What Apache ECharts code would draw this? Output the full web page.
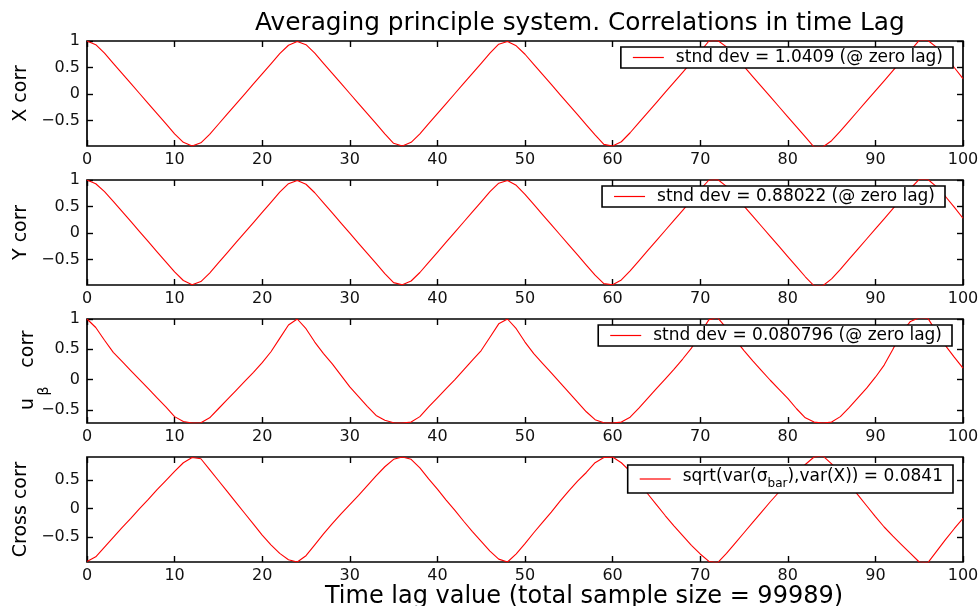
<!DOCTYPE html>
<html>
<head>
<meta charset="utf-8">
<script src="https://cdn.jsdelivr.net/npm/echarts@6/dist/echarts.min.js"></script>
<style>
  html, body { margin: 0; padding: 0; background: #fff; }
  #chart { width: 980px; height: 606px; }
</style>
</head>
<body>
<div id="chart"></div>
<script>
// Correlation estimates against time lag (0..100 samples)
const lags = Array.from({ length: 101 }, (_, i) => i);

const xCorr = [
  1.00, 0.93, 0.77, 0.58, 0.39, 0.20, 0.01, -0.18, -0.37, -0.56,
  -0.75, -0.91, -0.98, -0.92, -0.76, -0.57, -0.38, -0.19, 0.00, 0.19,
  0.38, 0.57, 0.76, 0.92, 0.99, 0.93, 0.77, 0.58, 0.39, 0.20,
  0.01, -0.18, -0.37, -0.56, -0.75, -0.93, -0.98, -0.91, -0.75, -0.56,
  -0.37, -0.18, 0.01, 0.20, 0.39, 0.58, 0.77, 0.94, 0.99, 0.91,
  0.75, 0.56, 0.37, 0.18, -0.01, -0.20, -0.39, -0.58, -0.77, -0.95,
  -0.98, -0.90, -0.73, -0.54, -0.35, -0.16, 0.03, 0.22, 0.41, 0.60,
  0.80, 1.00, 1.01, 0.89, 0.71, 0.52, 0.33, 0.14, -0.05, -0.24,
  -0.43, -0.62, -0.81, -1.00, -1.00, -0.88, -0.70, -0.51, -0.32, -0.13,
  0.06, 0.25, 0.44, 0.63, 0.82, 1.01, 1.01, 0.88, 0.70, 0.50,
  0.29
];

const yCorr = [
  1.00, 0.93, 0.78, 0.60, 0.41, 0.22, 0.03, -0.16, -0.35, -0.54,
  -0.73, -0.89, -0.97, -0.91, -0.75, -0.56, -0.37, -0.18, 0.01, 0.20,
  0.39, 0.58, 0.77, 0.93, 0.99, 0.92, 0.76, 0.57, 0.38, 0.19,
  0.00, -0.19, -0.38, -0.57, -0.76, -0.93, -0.97, -0.90, -0.74, -0.55,
  -0.36, -0.17, 0.02, 0.21, 0.40, 0.59, 0.78, 0.94, 0.99, 0.90,
  0.73, 0.54, 0.35, 0.16, -0.03, -0.22, -0.41, -0.60, -0.79, -0.95,
  -0.97, -0.88, -0.71, -0.52, -0.33, -0.14, 0.05, 0.24, 0.43, 0.62,
  0.82, 1.00, 1.01, 0.88, 0.70, 0.51, 0.32, 0.13, -0.06, -0.25,
  -0.44, -0.63, -0.82, -0.99, -0.99, -0.86, -0.68, -0.49, -0.30, -0.11,
  0.08, 0.27, 0.46, 0.65, 0.84, 1.01, 1.01, 0.87, 0.69, 0.49,
  0.28
];

const uBetaCorr = [
  1.00, 0.86, 0.65, 0.45, 0.30, 0.15, 0.00, -0.15, -0.30, -0.45,
  -0.61, -0.69, -0.715, -0.71, -0.63, -0.48, -0.33, -0.18, -0.03, 0.12,
  0.28, 0.46, 0.68, 0.90, 1.00, 0.84, 0.62, 0.43, 0.26, 0.07,
  -0.12, -0.28, -0.44, -0.59, -0.67, -0.71, -0.715, -0.70, -0.61, -0.45,
  -0.30, -0.15, 0.00, 0.16, 0.32, 0.48, 0.70, 0.92, 1.00, 0.84,
  0.62, 0.43, 0.27, 0.11, -0.05, -0.21, -0.37, -0.53, -0.66, -0.71,
  -0.715, -0.70, -0.62, -0.47, -0.31, -0.15, 0.01, 0.17, 0.34, 0.52,
  0.76, 0.99, 1.02, 0.85, 0.66, 0.48, 0.31, 0.15, -0.01, -0.16,
  -0.31, -0.48, -0.63, -0.70, -0.715, -0.70, -0.61, -0.46, -0.30, -0.14,
  0.04, 0.24, 0.50, 0.78, 0.96, 1.02, 1.01, 0.78, 0.56, 0.37,
  0.19
];

const crossCorr = [
  -0.92, -0.84, -0.67, -0.50, -0.33, -0.17, 0.00, 0.16, 0.33, 0.49,
  0.65, 0.80, 0.89, 0.87, 0.68, 0.49, 0.30, 0.11, -0.08, -0.27,
  -0.46, -0.63, -0.78, -0.89, -0.93, -0.82, -0.63, -0.44, -0.26, -0.09,
  0.07, 0.23, 0.40, 0.57, 0.73, 0.86, 0.90, 0.86, 0.71, 0.52,
  0.34, 0.15, -0.03, -0.22, -0.40, -0.57, -0.74, -0.88, -0.93, -0.79,
  -0.61, -0.42, -0.24, -0.06, 0.13, 0.31, 0.48, 0.63, 0.80, 0.89,
  0.90, 0.80, 0.65, 0.46, 0.26, 0.07, -0.12, -0.30, -0.47, -0.64,
  -0.79, -0.92, -0.94, -0.78, -0.60, -0.42, -0.24, -0.06, 0.12, 0.29,
  0.45, 0.61, 0.77, 0.90, 0.92, 0.78, 0.61, 0.43, 0.24, 0.05,
  -0.14, -0.32, -0.48, -0.63, -0.78, -0.93, -0.94, -0.74, -0.54, -0.35,
  -0.17
];

const legendTexts = [
  'stnd dev = 1.0409 (@ zero lag)',
  'stnd dev = 0.88022 (@ zero lag)',
  'stnd dev = 0.080796 (@ zero lag)',
  'sqrt(var(\u03c3bar),var(X)) = 0.0841'
];

const yLimits = [[-0.98, 1], [-0.975, 1], [-0.715, 1], [-0.93, 0.90]];
const yTickSets = [[-0.5, 0, 0.5, 1], [-0.5, 0, 0.5, 1], [-0.5, 0, 0.5, 1], [-0.5, 0, 0.5]];
const xTickStep = 10;

const titleText = 'Averaging principle system. Correlations in time Lag';
const xLabelText = 'Time lag value (total sample size = 99989)';
const yAxisNames = ['X corr', 'Y corr', '', 'Cross corr'];

// ---- layout & styling ----
const FONT = 'DejaVu Sans';
const panelTops = [41, 180, 319, 457];
const panelHeights = [105, 105, 104, 105];
const PLOT_LEFT = 87, PLOT_WIDTH = 876;
const seriesValues = [xCorr, yCorr, uBetaCorr, crossCorr];

const fmtTick = v => (v < 0 ? '\u2212' + Math.abs(v) : String(v));

const grids = [], xAxes = [], yAxes = [], series = [], legends = [];

const legendBoxes = [
  { right: 27, top: 47 },
  { right: 35, top: 186 },
  { right: 28, top: 325 },
  { right: 27, top: 465 }
];

for (let i = 0; i < 4; i++) {
  grids.push({
    left: PLOT_LEFT, width: PLOT_WIDTH, top: panelTops[i], height: panelHeights[i],
    show: true, borderColor: '#000', borderWidth: 1.7, backgroundColor: '#fff',
    containLabel: false, outerBoundsMode: 'none'
  });

  const tickStyle = { show: true, inside: true, length: 6, lineStyle: { color: '#000', width: 1.4 } };
  const isLast = i === 3;

  // bottom axis with labels
  xAxes.push({
    type: 'value', gridIndex: i, position: 'bottom', min: 0, max: 100, interval: xTickStep,
    axisLine: { show: false, onZero: false }, splitLine: { show: false },
    axisTick: tickStyle,
    axisLabel: { color: '#111', fontFamily: FONT, fontSize: 16, margin: 6, showMinLabel: true, showMaxLabel: true, hideOverlap: false },
    name: isLast ? xLabelText : '',
    nameLocation: 'middle', nameGap: 19,
    nameTextStyle: { color: '#000', fontFamily: FONT, fontSize: 24, padding: [0, 0, 0, 118] }
  });
  // top edge ticks
  xAxes.push({
    type: 'value', gridIndex: i, position: 'top', min: 0, max: 100, interval: xTickStep,
    axisLine: { show: false, onZero: false }, splitLine: { show: false },
    axisTick: tickStyle, axisLabel: { show: false }
  });

  yAxes.push({
    type: 'value', gridIndex: i, position: 'left', min: yLimits[i][0], max: yLimits[i][1],
    axisLine: { show: false, onZero: false }, splitLine: { show: false },
    axisTick: Object.assign({ customValues: yTickSets[i] }, tickStyle),
    axisLabel: { customValues: yTickSets[i], formatter: fmtTick, color: '#111', fontFamily: FONT, fontSize: 16, margin: 7 },
    name: yAxisNames[i], nameLocation: 'middle', nameRotate: 90, nameGap: 45,
    nameTextStyle: { color: '#000', fontFamily: FONT, fontSize: 19 }
  });
  yAxes.push({
    type: 'value', gridIndex: i, position: 'right', min: yLimits[i][0], max: yLimits[i][1],
    axisLine: { show: false, onZero: false }, splitLine: { show: false },
    axisTick: Object.assign({ customValues: yTickSets[i] }, tickStyle),
    axisLabel: { show: false }
  });

  series.push({
    type: 'line', name: legendTexts[i],
    xAxisIndex: 2 * i, yAxisIndex: 2 * i,
    data: seriesValues[i].map((v, k) => [lags[k], v]),
    symbol: 'none', showSymbol: false, clip: true,
    lineStyle: { color: '#ff0000', width: 1.1 },
    itemStyle: { color: '#ff0000' },
    z: 2
  });

  const lg = {
    data: [{ name: legendTexts[i], icon: 'rect' }],
    right: legendBoxes[i].right, top: legendBoxes[i].top,
    orient: 'horizontal',
    backgroundColor: '#fff', borderColor: '#000', borderWidth: 1.6, borderRadius: 0,
    padding: [2, 10, 2, 12],
    itemWidth: 31, itemHeight: 1.2, itemGap: 0,
    itemStyle: { color: '#ff0000', borderWidth: 0 },
    selectedMode: false,
    textStyle: { color: '#000', fontFamily: FONT, fontSize: 17, padding: [0, 0, 0, 7] },
    z: 10
  };
  if (i === 3) {
    lg.padding = [3, 10, 3, 12];
    lg.formatter = () => '{m|sqrt(var(\u03c3}{s|bar}{m|),var(X)) = 0.0841}';
    lg.textStyle.rich = {
      m: { fontFamily: FONT, fontSize: 17, lineHeight: 18, verticalAlign: 'top', color: '#000' },
      s: { fontFamily: FONT, fontSize: 12, lineHeight: 22, verticalAlign: 'bottom', color: '#000' }
    };
  }
  legends.push(lg);
}

// y label of the third panel: u with subscript beta, then "corr"
const rot = Math.PI / 2;
const uBetaLabel = [
  { type: 'text', x: 28, y: 349, rotation: rot,
    style: { text: 'corr', fill: '#000', font: '19px "DejaVu Sans"', align: 'center', verticalAlign: 'middle' } },
  { type: 'text', x: 28, y: 404, rotation: rot,
    style: { text: 'u', fill: '#000', font: '19px "DejaVu Sans"', align: 'center', verticalAlign: 'middle' } },
  { type: 'text', x: 44, y: 391, rotation: rot,
    style: { text: '\u03b2', fill: '#000', font: '14px "DejaVu Sans"', align: 'center', verticalAlign: 'middle' } }
];

const chart = echarts.init(document.getElementById('chart'), null, { renderer: 'canvas' });
chart.setOption({
  animation: false,
  backgroundColor: '#fff',
  title: {
    text: titleText, left: 250, top: 6,
    textStyle: { color: '#000', fontFamily: FONT, fontSize: 24.8, fontWeight: 'normal' }
  },
  legend: legends,
  grid: grids,
  xAxis: xAxes,
  yAxis: yAxes,
  series: series,
  graphic: uBetaLabel
});
</script>
</body>
</html>
